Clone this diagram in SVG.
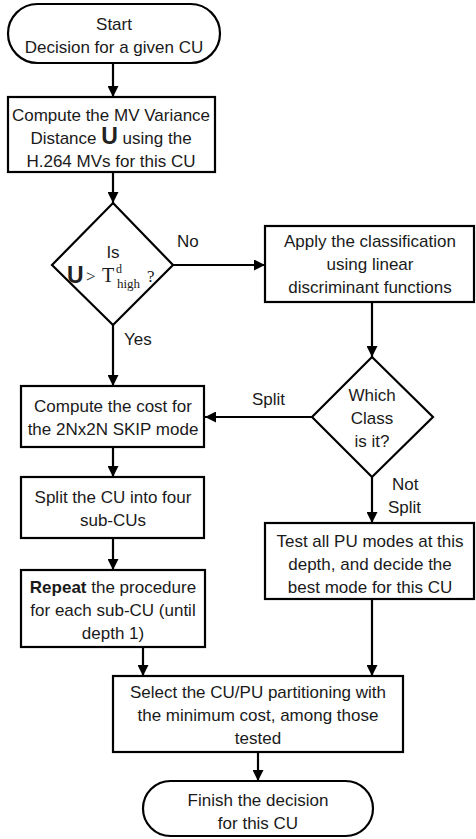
<svg xmlns="http://www.w3.org/2000/svg" width="476" height="839" viewBox="0 0 476 839">
<defs>
<marker id="ah" viewBox="0 0 10 10" refX="10" refY="5" markerWidth="5" markerHeight="5" orient="auto" markerUnits="strokeWidth">
<path d="M0,0 L10,5 L0,10 z" fill="#000"/>
</marker>
<style>
.s{fill:#fff;stroke:#000;stroke-width:2.2}
.t{font-family:"Liberation Sans",Arial,sans-serif;font-size:17px;fill:#1a1a1a;text-anchor:middle}
.l{font-family:"Liberation Sans",Arial,sans-serif;font-size:17px;fill:#1a1a1a}
.c{fill:none;stroke:#000;stroke-width:2.2;marker-end:url(#ah)}
.u{font-family:"Liberation Sans",Arial,sans-serif;font-weight:bold;font-size:23px;fill:#222}
.m{font-family:"Liberation Serif","Times New Roman",serif;fill:#1a1a1a}
</style>
</defs>
<rect width="476" height="839" fill="#fff"/>
<g id="connectors">
<path class="c" d="M113,64 V97"/>
<path class="c" d="M113,172 V203"/>
<path class="c" d="M173,265 H265"/>
<path class="c" d="M113,325 V386"/>
<path class="c" d="M372,302 V357"/>
<path class="c" d="M312,417 H205"/>
<path class="c" d="M113,447 V477"/>
<path class="c" d="M113,538 V570"/>
<path class="c" d="M372,477 V523"/>
<path class="c" d="M143,647 V676"/>
<path class="c" d="M372,599 V676"/>
<path class="c" d="M258,752 V781"/>
<text class="l" x="177" y="247">No</text>
<text class="l" x="124" y="345">Yes</text>
<text class="l" x="252" y="405">Split</text>
<text class="l" x="392" y="490">Not</text>
<text class="l" x="388" y="513">Split</text>
</g>
<g id="start">
<rect class="s" x="8" y="4" width="212" height="59" rx="29.5"/>
<text class="t" x="114" y="30">Start</text>
<text class="t" x="114" y="53">Decision for a given CU</text>
</g>
<g id="mvdist">
<rect class="s" x="8" y="97" width="207" height="75"/>
<text class="t" x="111" y="121">Compute the MV Variance</text>
<text class="t" x="111" y="144"><tspan>Distance </tspan><tspan class="u">U</tspan><tspan> using the</tspan></text>
<text class="t" x="111" y="167">H.264 MVs for this CU</text>
</g>
<g id="dec1">
<path class="s" d="M113,203 L173,265 L113,325 L52,265 Z"/>
<text class="t" x="113" y="258">Is</text>
<text class="u" x="67" y="283">U</text>
<text class="m" x="86" y="282" font-size="17">&gt;</text>
<text class="m" x="102" y="282" font-size="20">T</text>
<text class="m" x="116" y="273" font-size="12">d</text>
<text class="m" x="117" y="288" font-size="13">high</text>
<text class="m" x="147" y="282" font-size="17">?</text>
</g>
<g id="classify">
<rect class="s" x="265" y="226" width="209" height="76"/>
<text class="t" x="370" y="247">Apply the classification</text>
<text class="t" x="370" y="270">using linear</text>
<text class="t" x="370" y="293">discriminant functions</text>
</g>
<g id="dec2">
<path class="s" d="M372,357 L433,417 L372,477 L312,417 Z"/>
<text class="t" x="372" y="401">Which</text>
<text class="t" x="372" y="424">Class</text>
<text class="t" x="372" y="447">is it?</text>
</g>
<g id="skip">
<rect class="s" x="21" y="386" width="183" height="61"/>
<text class="t" x="113" y="412">Compute the cost for</text>
<text class="t" x="113" y="435">the 2Nx2N SKIP mode</text>
</g>
<g id="splitcu">
<rect class="s" x="21" y="477" width="183" height="61"/>
<text class="t" x="113" y="503">Split the CU into four</text>
<text class="t" x="113" y="526">sub-CUs</text>
</g>
<g id="repeat">
<rect class="s" x="21" y="570" width="184" height="77"/>
<text class="t" x="113" y="593"><tspan font-weight="bold">Repeat</tspan> the procedure</text>
<text class="t" x="113" y="616">for each sub-CU (until</text>
<text class="t" x="113" y="639">depth 1)</text>
</g>
<g id="testpu">
<rect class="s" x="265" y="523" width="209" height="76"/>
<text class="t" x="370" y="547">Test all PU modes at this</text>
<text class="t" x="370" y="570">depth, and decide the</text>
<text class="t" x="370" y="593">best mode for this CU</text>
</g>
<g id="select">
<rect class="s" x="113" y="676" width="290" height="76"/>
<text class="t" x="258" y="698">Select the CU/PU partitioning with</text>
<text class="t" x="258" y="721">the minimum cost, among those</text>
<text class="t" x="258" y="744">tested</text>
</g>
<g id="finish">
<rect class="s" x="143" y="781" width="230" height="55" rx="27.5"/>
<text class="t" x="258" y="806">Finish the decision</text>
<text class="t" x="258" y="829">for this CU</text>
</g>
</svg>
